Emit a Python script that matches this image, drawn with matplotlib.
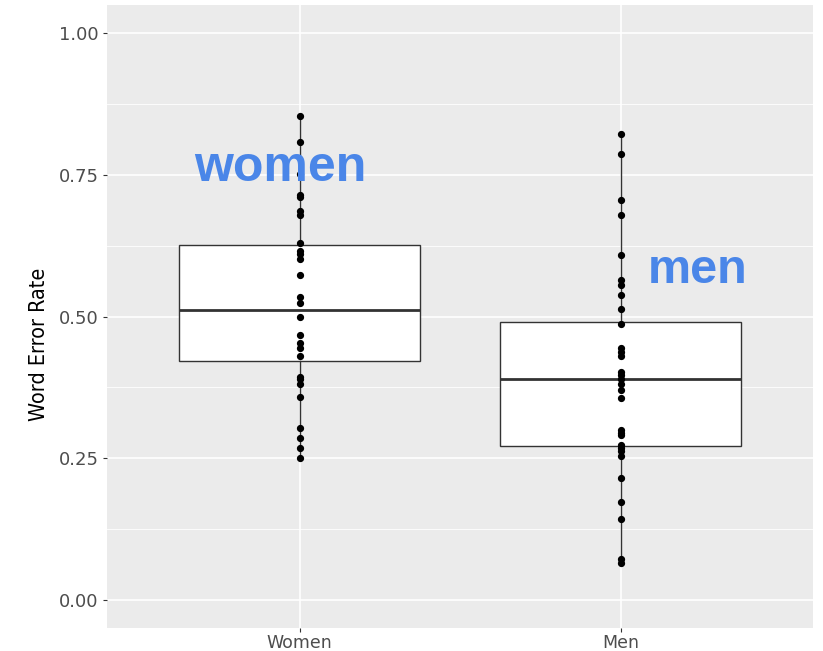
import matplotlib.pyplot as plt
from matplotlib.ticker import FixedLocator

# values
groups = ["Women", "Men"]

women_wer = [0.854, 0.808, 0.751, 0.714, 0.711, 0.686, 0.680, 0.629, 0.615,
             0.610, 0.601, 0.573, 0.535, 0.524, 0.500, 0.468, 0.454, 0.445,
             0.430, 0.394, 0.389, 0.380, 0.358, 0.303, 0.286, 0.268, 0.250]
men_wer = [0.822, 0.787, 0.706, 0.679, 0.608, 0.564, 0.555, 0.538, 0.514,
           0.486, 0.445, 0.437, 0.430, 0.402, 0.396, 0.389, 0.380, 0.371,
           0.357, 0.300, 0.295, 0.290, 0.274, 0.268, 0.262, 0.253, 0.214,
           0.173, 0.143, 0.071, 0.065]

# box statistics as drawn
q1 = [0.422, 0.272]
medians = [0.511, 0.390]
q3 = [0.627, 0.491]
whisk_lo = [0.250, 0.065]
whisk_hi = [0.854, 0.822]

y_ticks = [0.00, 0.25, 0.50, 0.75, 1.00]
y_tick_labels = ["0.00", "0.25", "0.50", "0.75", "1.00"]

BLUE = "#4a86e8"
PANEL = "#ebebeb"

fig = plt.figure(figsize=(8.23, 6.51), dpi=100)
ax = fig.add_axes([0.130, 0.0353, 0.858, 0.957])
ax.set_facecolor(PANEL)
for s in ax.spines.values():
    s.set_visible(False)

ax.set_xlim(0.4, 2.6)
ax.set_ylim(-0.05, 1.05)
ax.set_axisbelow(True)

ax.yaxis.set_major_locator(FixedLocator(y_ticks))
ax.yaxis.set_minor_locator(FixedLocator([0.125, 0.375, 0.625, 0.875]))
ax.set_yticklabels(y_tick_labels)
ax.set_xticks([1, 2])
ax.set_xticklabels(groups)
ax.grid(which="major", color="white", linewidth=1.2)
ax.grid(which="minor", axis="y", color="white", linewidth=0.6)
ax.tick_params(axis="both", which="major", length=3, width=0.8, color="#333333",
               labelcolor="#4d4d4d", labelsize=13, pad=3)
ax.tick_params(axis="x", which="major", labelsize=12.5, pad=1.5)
ax.tick_params(axis="y", which="minor", length=0)

stats = []
for i, g in enumerate(groups):
    stats.append({"label": g, "q1": q1[i], "med": medians[i], "q3": q3[i],
                  "whislo": whisk_lo[i], "whishi": whisk_hi[i], "fliers": []})

ax.bxp(stats, positions=[1, 2], widths=0.75, showcaps=False, patch_artist=True,
       boxprops=dict(facecolor="white", edgecolor="#333333", linewidth=1.0),
       whiskerprops=dict(color="#333333", linewidth=1.0),
       medianprops=dict(color="#333333", linewidth=2.0),
       manage_ticks=False, zorder=2)

for pos, vals in zip([1, 2], [women_wer, men_wer]):
    ax.plot([pos] * len(vals), vals, "o", color="black", markersize=4.2,
            linestyle="none", zorder=3)

ax.set_ylabel("Word Error Rate", family="DejaVu Sans", fontstretch="condensed",
              fontsize=15.5, color="black")
ax.yaxis.set_label_coords(-0.082, 0.455)

ax.text(0.94, 0.762, "women", color=BLUE, fontsize=36, fontweight="bold",
        family=["Liberation Sans", "DejaVu Sans"], ha="center", va="center", zorder=4)
ax.text(2.24, 0.582, "men", color=BLUE, fontsize=35, fontweight="bold",
        family=["Liberation Sans", "DejaVu Sans"], ha="center", va="center", zorder=4)

fig.savefig("out.png", dpi=100)
